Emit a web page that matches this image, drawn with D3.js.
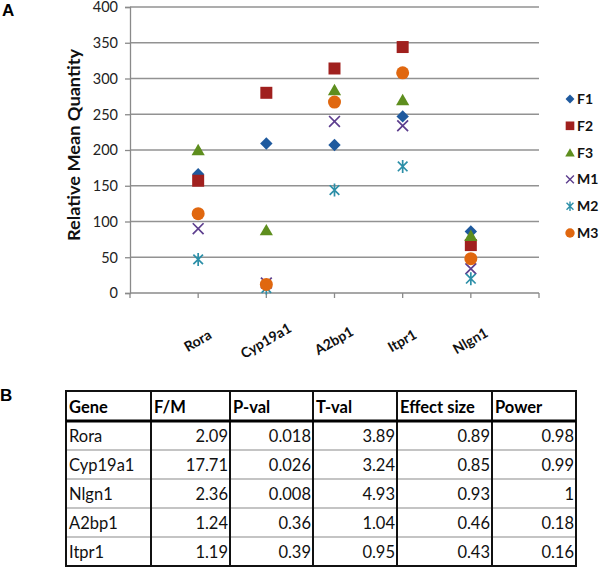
<!DOCTYPE html>
<html>
<head>
<meta charset="utf-8">
<script src="https://cdn.jsdelivr.net/npm/d3@7"></script>
<style>
  html, body { margin: 0; padding: 0; background: #fff; }
  svg { display: block; }
</style>
</head>
<body>
<svg id="chart" width="600" height="568"></svg>
<script>
// ---------- data ----------
const categories = ["Rora", "Cyp19a1", "A2bp1", "Itpr1", "Nlgn1"];
const seriesNames = ["F1", "F2", "F3", "M1", "M2", "M3"];
const F1 = [166, 209, 207, 247, 86];
const F2 = [157, 280, 314, 344, 67];
const F3 = [200, 88, 284, 270, 80];
const M1 = [90, 14, 240, 234, 34];
const M2 = [47, 7, 144, 177, 20];
const M3 = [111, 12, 267, 308, 48];
const yTicks = [0, 50, 100, 150, 200, 250, 300, 350, 400];

const tableHeaders = ["Gene", "F/M", "P-val", "T-val", "Effect size", "Power"];
const genes = ["Rora", "Cyp19a1", "Nlgn1", "A2bp1", "Itpr1"];
const fmRatio = ["2.09", "17.71", "2.36", "1.24", "1.19"];
const pVal = ["0.018", "0.026", "0.008", "0.36", "0.39"];
const tVal = ["3.89", "3.24", "4.93", "1.04", "0.95"];
const effectSize = ["0.89", "0.85", "0.93", "0.46", "0.43"];
const power = ["0.98", "0.99", "1", "0.18", "0.16"];

// ---------- styles ----------
const seriesValues = [F1, F2, F3, M1, M2, M3];
const seriesStyle = [
  { shape: "diamond", color: "#1F5A9E" },
  { shape: "square", color: "#A0201E" },
  { shape: "triangle", color: "#5E8E1E" },
  { shape: "x", color: "#5D3E8E" },
  { shape: "star", color: "#2C8FA8" },
  { shape: "circle", color: "#E0670F" }
];
const FONT = "Lato, 'Open Sans', 'DejaVu Sans', sans-serif";

function markerPath(shape, s) {
  const p = d3.path();
  if (shape === "diamond") {
    const r = 6.2 * s; p.moveTo(0, -r); p.lineTo(r, 0); p.lineTo(0, r); p.lineTo(-r, 0); p.closePath();
  } else if (shape === "square") {
    const r = 6 * s; p.rect(-r, -r, 2 * r, 2 * r);
  } else if (shape === "triangle") {
    const w = 6.6 * s, h = 6.2 * s; p.moveTo(0, -h); p.lineTo(w, h * 0.85); p.lineTo(-w, h * 0.85); p.closePath();
  } else if (shape === "circle") {
    const r = 6.5 * s; p.moveTo(r, 0); p.arc(0, 0, r, 0, 2 * Math.PI);
  } else if (shape === "x") {
    const r = 5.4 * s; p.moveTo(-r, -r); p.lineTo(r, r); p.moveTo(r, -r); p.lineTo(-r, r);
  } else if (shape === "star") {
    const r = 4.8 * s, v = 6.5 * s;
    p.moveTo(-r, -r); p.lineTo(r, r); p.moveTo(r, -r); p.lineTo(-r, r);
    p.moveTo(0, -v); p.lineTo(0, v);
  }
  return p.toString();
}
function isStroke(shape) { return shape === "x" || shape === "star"; }

const svg = d3.select("#chart");
svg.append("rect").attr("width", 600).attr("height", 568).attr("fill", "#fff");

// ---------- chart A ----------
const plotLeft = 130, plotRight = 539, plotTop = 7, plotBottom = 293;
const x = d3.scalePoint().domain(categories).range([plotLeft, plotRight]).padding(1);
const y = d3.scaleLinear().domain([0, 400]).range([plotBottom, plotTop]);

const grid = svg.append("g");
grid.selectAll("line").data(yTicks.filter(d => d > 0)).join("line")
  .attr("x1", plotLeft).attr("x2", plotRight)
  .attr("y1", d => y(d)).attr("y2", d => y(d))
  .attr("stroke", "#929292").attr("stroke-width", 1.3);

// y axis
const yAxis = svg.append("g").attr("transform", `translate(${plotLeft},0)`)
  .call(d3.axisLeft(y).tickValues(yTicks).tickSize(5).tickPadding(7));
yAxis.select(".domain").attr("stroke", "#8a8a8a").attr("stroke-width", 1.3);
yAxis.selectAll(".tick line").attr("stroke", "#8a8a8a").attr("stroke-width", 1.3);
yAxis.selectAll(".tick text").attr("font-family", FONT).attr("font-size", 14.5).attr("fill", "#222")
  .attr("dy", "0.34em");

// x axis
const xAxis = svg.append("g").attr("transform", `translate(0,${plotBottom})`);
xAxis.append("line").attr("x1", plotLeft).attr("x2", plotRight).attr("y1", 0).attr("y2", 0)
  .attr("stroke", "#8a8a8a").attr("stroke-width", 1.3);
const tickXs = [plotLeft, ...categories.map(c => x(c)), plotRight];
xAxis.selectAll("line.tk").data(tickXs).join("line").attr("class", "tk")
  .attr("x1", d => d).attr("x2", d => d).attr("y1", 0).attr("y2", 5)
  .attr("stroke", "#8a8a8a").attr("stroke-width", 1.3);
xAxis.selectAll("text").data(categories).join("text")
  .attr("transform", d => `translate(${x(d) + 2},${52}) rotate(-30)`)
  .attr("text-anchor", "middle")
  .attr("font-family", FONT).attr("font-weight", "bold").attr("font-size", 14)
  .attr("fill", "#111")
  .text(d => d);

// y title
svg.append("text")
  .attr("transform", `translate(80,145) rotate(-90)`)
  .attr("text-anchor", "middle")
  .attr("font-family", FONT).attr("font-weight", "bold").attr("font-size", 17)
  .attr("textLength", 192).attr("lengthAdjust", "spacingAndGlyphs")
  .attr("fill", "#111")
  .text("Relative Mean Quantity");

// points
seriesValues.forEach((vals, si) => {
  const st = seriesStyle[si];
  svg.append("g").selectAll("path").data(vals).join("path")
    .attr("transform", (d, i) => `translate(${x(categories[i])},${y(d)})`)
    .attr("d", markerPath(st.shape, 1))
    .attr("fill", isStroke(st.shape) ? "none" : st.color)
    .attr("stroke", isStroke(st.shape) ? st.color : "none")
    .attr("stroke-width", 1.7);
});

// legend
const ly = d3.scalePoint().domain(seriesNames).range([99, 233]);
const legend = svg.append("g");
seriesNames.forEach((name, si) => {
  const st = seriesStyle[si];
  const g = legend.append("g").attr("transform", `translate(570,${ly(name)})`);
  g.append("path").attr("d", markerPath(st.shape, 0.72))
    .attr("fill", isStroke(st.shape) ? "none" : st.color)
    .attr("stroke", isStroke(st.shape) ? st.color : "none")
    .attr("stroke-width", 1.4);
  g.append("text").attr("x", 7).attr("y", 5)
    .attr("font-family", FONT).attr("font-weight", "bold").attr("font-size", 14)
    .attr("fill", "#111").text(name);
});

// panel labels
svg.append("text").attr("x", 2).attr("y", 16)
  .attr("font-family", "'Liberation Sans', Arial, sans-serif").attr("font-weight", "bold")
  .attr("font-size", 17).attr("fill", "#000").text("A");
svg.append("text").attr("x", 0).attr("y", 401)
  .attr("font-family", "'Liberation Sans', Arial, sans-serif").attr("font-weight", "bold")
  .attr("font-size", 17).attr("fill", "#000").text("B");

// ---------- table B ----------
const colEdges = [66, 151, 230, 313, 397, 492, 576];
const tableTop = 391, headerH = 30, rowH = 29;
const columns = [genes, fmRatio, pVal, tVal, effectSize, power];
const nRows = genes.length;
const tableBottom = tableTop + headerH + rowH * nRows;
const T = svg.append("g");

// row separators (light grey)
for (let r = 1; r < nRows; r++) {
  const yy = tableTop + headerH + rowH * r;
  T.append("line").attr("x1", colEdges[0]).attr("x2", colEdges[6]).attr("y1", yy).attr("y2", yy)
    .attr("stroke", "#c4c4c4").attr("stroke-width", 1.8);
}
// vertical lines
colEdges.forEach(cx => {
  T.append("line").attr("x1", cx).attr("x2", cx).attr("y1", tableTop).attr("y2", tableBottom)
    .attr("stroke", "#111").attr("stroke-width", 2);
});
// outer border
T.append("rect").attr("x", colEdges[0]).attr("y", tableTop)
  .attr("width", colEdges[6] - colEdges[0]).attr("height", tableBottom - tableTop)
  .attr("fill", "none").attr("stroke", "#111").attr("stroke-width", 2);
// header bottom thick
T.append("line").attr("x1", colEdges[0]).attr("x2", colEdges[6])
  .attr("y1", tableTop + headerH).attr("y2", tableTop + headerH)
  .attr("stroke", "#000").attr("stroke-width", 3.2);

// header text
tableHeaders.forEach((h, ci) => {
  T.append("text").attr("x", colEdges[ci] + 3).attr("y", tableTop + headerH - 8)
    .attr("font-family", FONT).attr("font-weight", "bold").attr("font-size", 16.5)
    .attr("fill", "#000").text(h);
});
// body text
columns.forEach((col, ci) => {
  col.forEach((v, ri) => {
    const yy = tableTop + headerH + rowH * ri + rowH - 8;
    const t = T.append("text").attr("y", yy)
      .attr("font-family", FONT).attr("font-size", 16.5).attr("fill", "#111").text(v);
    if (ci === 0) t.attr("x", colEdges[ci] + 3);
    else t.attr("x", colEdges[ci + 1] - 2).attr("text-anchor", "end");
  });
});
</script>
</body>
</html>
